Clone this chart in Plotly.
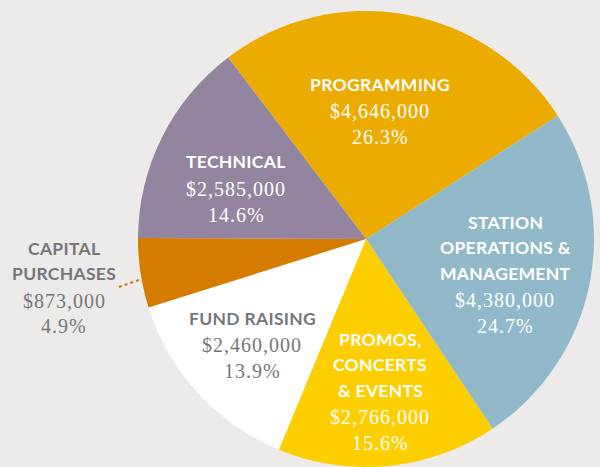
import plotly.graph_objects as go

W, H = 600, 467

# ---- data ----
categories = ["PROGRAMMING", "STATION OPERATIONS & MANAGEMENT", "PROMOS, CONCERTS & EVENTS",
              "FUND RAISING", "CAPITAL PURCHASES", "TECHNICAL"]
title_lines = [["PROGRAMMING"], ["STATION", "OPERATIONS &", "MANAGEMENT"],
               ["PROMOS,", "CONCERTS", "& EVENTS"], ["FUND RAISING"],
               ["CAPITAL", "PURCHASES"], ["TECHNICAL"]]
amounts = [4646000, 4380000, 2766000, 2460000, 873000, 2585000]
percents = [26.3, 24.7, 15.6, 13.9, 4.9, 14.6]

# ---- styles ----
colors = ["#ECAB00", "#92B9CA", "#FDCE00", "#FFFFFF", "#D57B00", "#93859F"]
text_colors = ["#FFFFFF", "#FFFFFF", "#FFFFFF", "#77777A", "#77777A", "#FFFFFF"]
# label block centre x and first-line centre y, in pixels from top-left
label_pos = [(380, 84), (505, 222), (380, 339), (252, 318), (64, 248), (236, 162)]
line_gap = 25.8
bg = "#ECEBEA"

fig = go.Figure()
fig.add_trace(go.Pie(
    labels=categories, values=amounts, sort=False, direction="clockwise",
    rotation=-37.2, marker=dict(colors=colors, line=dict(width=0)),
    textinfo="none", hoverinfo="label+value+percent", showlegend=False,
    domain=dict(x=[(366 - 229) / W, (366 + 229) / W], y=[0, 456 / H]),
))

ann = []
def add(text, x, y, color, family, size, weight):
    ann.append(dict(text=text, x=x / W, y=1 - y / H, xref="paper", yref="paper",
                    xanchor="center", yanchor="middle", showarrow=False,
                    font=dict(color=color, family=family, size=size, weight=weight)))

for i in range(len(categories)):
    cx, cy = label_pos[i]
    y = cy
    for t in title_lines[i]:
        add('<span style="letter-spacing:0.3px">' + t.replace("&", "&amp;") + '</span>',
            cx, y, text_colors[i], "Lato", 17.5, 700)
        y += line_gap
    add('<span style="letter-spacing:1px">$' + f"{amounts[i]:,}" + '</span>',
        cx, y + 1, text_colors[i], "Liberation Serif", 20, 400)
    y += line_gap
    add('<span style="letter-spacing:1px">' + f"{percents[i]}%" + '</span>',
        cx, y + 1, text_colors[i], "Liberation Serif", 20, 400)

fig.add_shape(type="line", xref="paper", yref="paper",
              x0=119 / W, y0=1 - 287 / H, x1=139 / W, y1=1 - 280 / H,
              line=dict(color="#D57B00", width=2, dash="dot"))

fig.update_layout(width=W, height=H, margin=dict(l=0, r=0, t=0, b=0),
                  paper_bgcolor=bg, plot_bgcolor=bg, annotations=ann)
fig.write_html("out.html", config={"displayModeBar": False},
               post_script="document.body.style.margin='0';document.body.style.overflow='hidden';")
